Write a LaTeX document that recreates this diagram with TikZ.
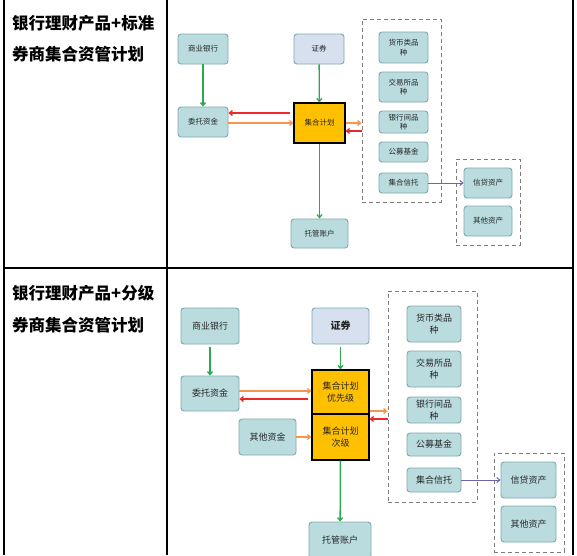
\documentclass[tikz,border=0pt]{standalone}
\usepackage{fontspec}
\setmainfont{Noto Sans CJK SC}
\usetikzlibrary{arrows.meta}
\definecolor{boxfill}{RGB}{186,220,223}
\definecolor{boxline}{RGB}{128,168,174}
\definecolor{lavfill}{RGB}{214,224,238}
\definecolor{planfill}{RGB}{255,192,0}
\definecolor{garr}{RGB}{40,170,80}
\definecolor{rarr}{RGB}{236,40,40}
\definecolor{oarr}{RGB}{247,150,74}
\definecolor{parr}{RGB}{112,100,172}
\definecolor{dashgray}{RGB}{125,125,125}
\tikzset{
  x=1pt, y=-1pt,
  tbl/.style={line width=1.3pt, black},
  bx/.style={draw=boxline, fill=boxfill, rounded corners=3pt, line width=0.9pt, align=center, inner sep=0pt, text=black!85},
  lav/.style={bx, fill=lavfill},
  plan/.style={draw=black, fill=planfill, line width=1.2pt, align=center, inner sep=0pt, text=black!85},
  dbox/.style={draw=dashgray, dashed, dash pattern=on 4pt off 3pt, line width=0.9pt, inner sep=0pt},
  fs/.style={font=\fontsize{7.5}{9.5}\selectfont},
  fb/.style={font=\fontsize{9}{11.5}\selectfont},
  lbl/.style={font=\fontsize{16.5}{17}\selectfont\bfseries, anchor=west, inner sep=0pt},
  tip/.style={-{Straight Barb[length=3pt,width=5pt]}},
  garrow/.style={tip, draw=garr, line width=1.3pt},
  rarrow/.style={tip, draw=rarr, line width=1.3pt},
  oarrow/.style={tip, draw=oarr, line width=1.3pt},
  parrow/.style={tip, draw=parr, line width=1pt},
}
\begin{document}
\begin{tikzpicture}
\useasboundingbox (0,0) rectangle (577,555);
\clip (0,0) rectangle (577,555);
\fill[white] (0,0) rectangle (577,555);
% table
\draw[tbl] (4,0) -- (4,555);
\draw[tbl] (167,0) -- (167,555);
\draw[tbl] (573,0) -- (573,555);
\draw[tbl] (4,268) -- (573,268);
% left labels
\node[lbl] (t1) at (12,23) {银行理财产品+标准};
\node[lbl] (t2) at (12,54) {券商集合资管计划};
\node[lbl] (t3) at (12,293) {银行理财产品+分级};
\node[lbl] (t4) at (12,325) {券商集合资管计划};

% ===== top diagram =====
\node[bx, fs, minimum width=50, minimum height=30] (a1) at (203,49) {商业银行};
\node[lav, fs, minimum width=50, minimum height=30] (a2) at (319,49) {证券};
\node[bx, fs, minimum width=50, minimum height=30] (a3) at (203,122) {委托资金};
\node[plan, fs, minimum width=51, minimum height=40] (a4) at (319.5,123) {集合计划};
\node[bx, fs, minimum width=57, minimum height=29] (a5) at (319.5,233.5) {托管账户};
\node[dbox, minimum width=79, minimum height=183] (d1) at (401.5,110.5) {};
\node[bx, fs, minimum width=49, minimum height=31] (b1) at (403.5,47.5) {货币类品\\种};
\node[bx, fs, minimum width=49, minimum height=30] (b2) at (403.5,87) {交易所品\\种};
\node[bx, fs, minimum width=49, minimum height=22] (b3) at (403.5,122) {银行间品\\种};
\node[bx, fs, minimum width=49, minimum height=20] (b4) at (403.5,152) {公募基金};
\node[bx, fs, minimum width=49, minimum height=20] (b5) at (403.5,183) {集合信托};
\node[dbox, minimum width=64, minimum height=86] (d2) at (488,202) {};
\node[bx, fs, minimum width=48, minimum height=30] (c1) at (488,183) {信贷资产};
\node[bx, fs, minimum width=48, minimum height=30] (c2) at (488,221) {其他资产};

\draw[garrow] (a1) -- (a3);
\draw[garrow] (a2) -- (a4);
\draw[garrow] (a4) -- (a5);
\draw[rarrow] ([xshift=-3pt]a4.west |- 0,113) -- (a3.east |- 0,113);
\draw[oarrow] (a3.east |- 0,123) -- (a4.west |- 0,123);
\draw[oarrow] (a4.east |- 0,123) -- (d1.west |- 0,123);
\draw[rarrow] (d1.west |- 0,131) -- (a4.east |- 0,131);
\draw[parrow] (b5) -- (c1);

% ===== bottom diagram =====
\node[bx, fb, minimum width=58, minimum height=36] (p1) at (210,326) {商业银行};
\node[lav, font=\fontsize{10}{12}\selectfont\bfseries, minimum width=57, minimum height=36] (p2) at (340.5,326) {证券};
\node[bx, fb, minimum width=58, minimum height=35] (p3) at (210,393.5) {委托资金};
\node[bx, fb, minimum width=57, minimum height=36] (p4) at (267.5,437) {其他资金};
\node[plan, fb, minimum width=57, minimum height=44] (p5) at (340.5,392) {集合计划\\优先级};
\node[plan, fb, minimum width=57, minimum height=46] (p6) at (340.5,437) {集合计划\\次级};
\node[bx, fb, minimum width=62, minimum height=36] (p7) at (340,540) {托管账户};
\node[dbox, minimum width=89, minimum height=211] (e1) at (432.5,396.5) {};
\node[bx, fb, minimum width=54, minimum height=36] (q1) at (434,324) {货币类品\\种};
\node[bx, fb, minimum width=54, minimum height=36] (q2) at (434,369) {交易所品\\种};
\node[bx, fb, minimum width=54, minimum height=26] (q3) at (434,410) {银行间品\\种};
\node[bx, fb, minimum width=54, minimum height=23] (q4) at (434,444.5) {公募基金};
\node[bx, fb, minimum width=54, minimum height=24] (q5) at (434,480) {集合信托};
\node[dbox, minimum width=70, minimum height=99] (e2) at (529,502.5) {};
\node[bx, fb, minimum width=55, minimum height=36] (r1) at (528.5,480) {信贷资产};
\node[bx, fb, minimum width=55, minimum height=36] (r2) at (528.5,524) {其他资产};

\draw[garrow] ([yshift=-3pt]p1.south) -- (p3);
\draw[garrow] ([yshift=-3pt]p2.south) -- (p5);
\draw[garrow] (p6) -- (p7);
\draw[oarrow] (p3.east |- 0,391) -- (p5.west |- 0,391);
\draw[rarrow] ([xshift=-3pt]p5.west |- 0,399) -- (p3.east |- 0,399);
\draw[oarrow] (p4.east |- 0,437) -- (p6.west |- 0,437);
\draw[oarrow] (p5.east |- 0,411) -- (e1.west |- 0,411);
\draw[rarrow] (e1.west |- 0,419) -- (p6.east |- 0,419);
\draw[parrow] (q5) -- (r1);
\end{tikzpicture}
\end{document}
